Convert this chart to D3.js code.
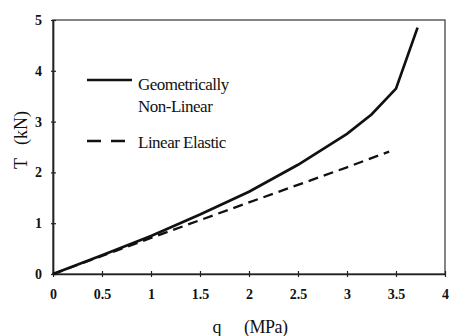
<!DOCTYPE html>
<html><head><meta charset="utf-8">
<script src="https://cdn.jsdelivr.net/npm/d3@7"></script>
<style>body{margin:0;background:#fff}text{font-family:"Liberation Serif","DejaVu Serif",serif;fill:#111}</style>
</head><body>
<svg id="c" width="449" height="336"></svg>
<script>
const nonLinearQ = [0, 0.5, 1, 1.5, 2, 2.5, 3, 3.25, 3.5, 3.72];
const nonLinearT = [0, 0.37, 0.75, 1.17, 1.62, 2.15, 2.76, 3.14, 3.65, 4.85];
const linearQ = [0, 1, 2, 3, 3.43];
const linearT = [0, 0.71, 1.41, 2.1, 2.41];
const xTicks = [0, 0.5, 1, 1.5, 2, 2.5, 3, 3.5, 4];
const xTickLabels = ["0", "0.5", "1", "1.5", "2", "2.5", "3", "3.5", "4"];
const yTicks = [0, 1, 2, 3, 4, 5];
const seriesNames = ["Geometrically|Non-Linear", "Linear Elastic"];

const svg = d3.select("#c");
const x = d3.scaleLinear().domain([0, 4]).range([53, 445]);
const y = d3.scaleLinear().domain([0, 5]).range([274, 20]);

// plot frame
svg.append("rect").attr("class", "plot-frame")
  .attr("x", x(0)).attr("y", y(5)).attr("width", x(4) - x(0)).attr("height", y(0) - y(5))
  .attr("fill", "none").attr("stroke", "#444").attr("stroke-width", 1.3);

const xAxis = svg.append("g").attr("transform", `translate(0,${y(0)})`)
  .call(d3.axisBottom(x).tickValues(xTicks).tickFormat((d, i) => xTickLabels[i]).tickSizeInner(3).tickSizeOuter(0).tickPadding(12));
xAxis.selectAll(".tick line").attr("y1", -3).attr("y2", 3).attr("stroke", "#222").attr("stroke-width", 1.2);
xAxis.select(".domain").attr("stroke", "#222").attr("stroke-width", 1.7);
xAxis.selectAll("text").attr("font-size", 14).attr("font-weight", "bold").style("font-family", "Liberation Serif");

const yAxis = svg.append("g").attr("transform", `translate(${x(0)},0)`)
  .call(d3.axisLeft(y).tickValues(yTicks).tickFormat(d3.format("d")).tickSizeInner(3).tickSizeOuter(0).tickPadding(8));
yAxis.selectAll(".tick line").attr("x1", -2).attr("x2", 3).attr("stroke", "#222").attr("stroke-width", 1.2);
yAxis.select(".domain").attr("stroke", "#222").attr("stroke-width", 1.7);
yAxis.selectAll("text").attr("font-size", 14).attr("font-weight", "bold").style("font-family", "Liberation Serif");

const line = d3.line().x(d => x(d[0])).y(d => y(d[1]));
svg.append("path").datum(linearQ.map((q, i) => [q, linearT[i]]))
  .attr("d", line).attr("fill", "none").attr("stroke", "#111").attr("stroke-width", 2.3).attr("stroke-dasharray", "10,6");
svg.append("path").datum(nonLinearQ.map((q, i) => [q, nonLinearT[i]]))
  .attr("d", line).attr("fill", "none").attr("stroke", "#111").attr("stroke-width", 2.7);

// axis titles
svg.append("text").attr("x", 217).attr("y", 333).attr("text-anchor", "middle").attr("font-size", 18).text("q");
svg.append("text").attr("x", 244).attr("y", 333).attr("font-size", 18).attr("letter-spacing", -0.5).text("(MPa)");
svg.append("text").attr("transform", "translate(27,140) rotate(-90)").attr("text-anchor", "middle")
  .attr("font-size", 18).attr("xml:space", "preserve").text("T   (kN)");

// legend
const lg = svg.append("g");
lg.append("line").attr("x1", 87).attr("x2", 132).attr("y1", 80).attr("y2", 80).attr("stroke", "#111").attr("stroke-width", 2.5);
const parts = seriesNames[0].split("|");
lg.append("text").attr("x", 138).attr("y", 90).attr("font-size", 17).attr("letter-spacing", -0.5).text(parts[0]);
lg.append("text").attr("x", 138).attr("y", 112).attr("font-size", 17).attr("letter-spacing", -0.5).text(parts[1]);
lg.append("line").attr("x1", 87).attr("x2", 126).attr("y1", 141).attr("y2", 141).attr("stroke", "#111").attr("stroke-width", 2.3).attr("stroke-dasharray", "14,10");
lg.append("text").attr("x", 138).attr("y", 148).attr("font-size", 17).attr("letter-spacing", -0.5).text(seriesNames[1]);
</script>
</body></html>
